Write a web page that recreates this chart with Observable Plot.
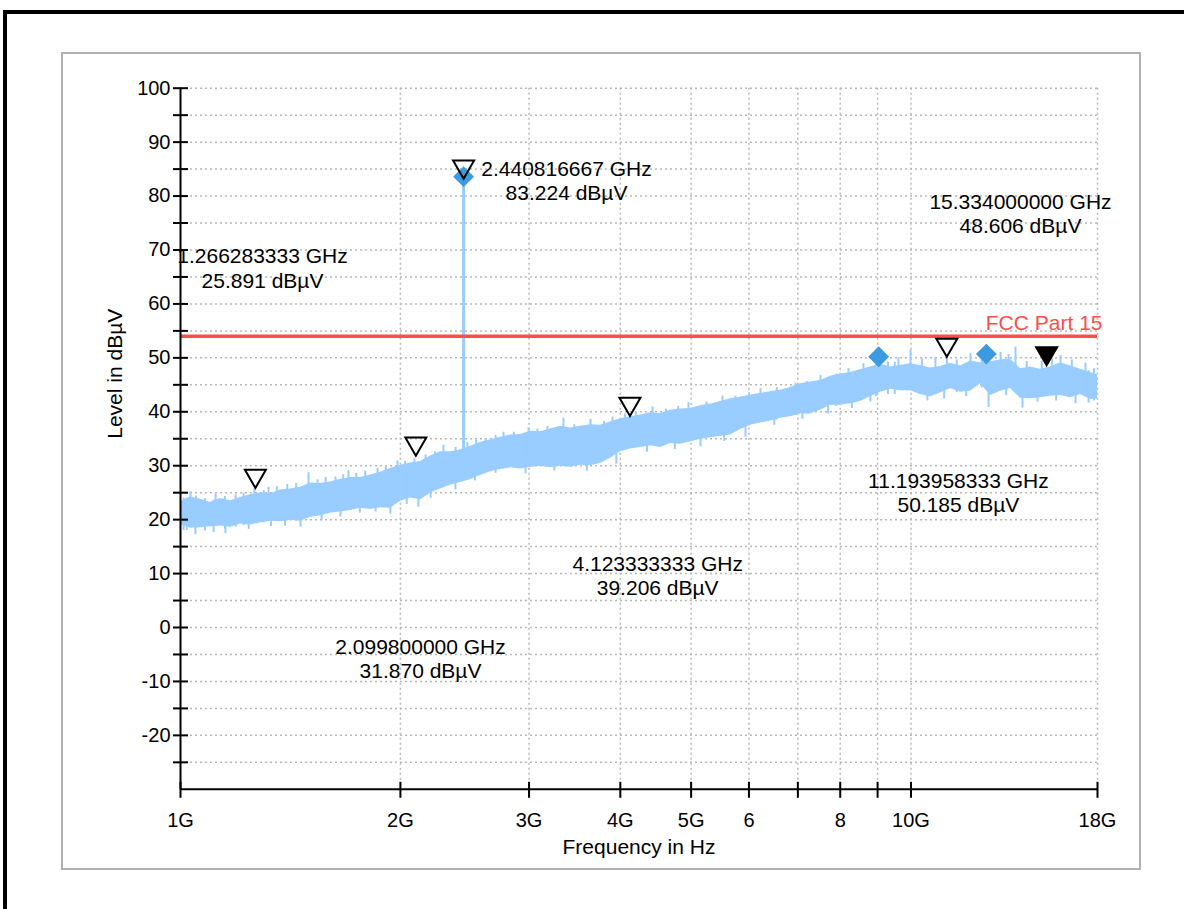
<!DOCTYPE html>
<html>
<head>
<meta charset="utf-8">
<script src="https://cdn.jsdelivr.net/npm/d3@7"></script>
<script src="https://cdn.jsdelivr.net/npm/@observablehq/plot@0.6"></script>
<style>
  html, body { margin: 0; padding: 0; background: #fff; width: 1184px; height: 909px; overflow: hidden; }
  #frameTop { position: absolute; left: 3px; top: 10px; width: 1181px; height: 4px; background: #000; }
  #frameLeft { position: absolute; left: 3px; top: 10px; width: 4px; height: 899px; background: #000; }
  #panel { position: absolute; left: 61px; top: 51.5px; width: 1080px; height: 818.5px; box-sizing: border-box; border: 2px solid #b0b0b0; background: #fff; }
  #chart { position: absolute; left: 0; top: 0; width: 1184px; height: 909px; }
</style>
</head>
<body>
<div id="frameTop"></div>
<div id="frameLeft"></div>
<div id="panel"></div>
<div id="chart"></div>
<script>
// ---- trace (peak detector scan) ----
const traceFreqGHz = [1.000,1.032,1.065,1.099,1.134,1.171,1.208,1.247,1.287,1.328,1.371,1.414,1.460,1.506,1.555,1.604,1.656,1.709,1.764,1.820,1.878,1.938,2.001,2.065,2.131,2.199,2.269,2.342,2.417,2.494,2.574,2.657,2.742,2.830,2.920,3.014,3.110,3.210,3.313,3.419,3.528,3.641,3.758,3.878,4.002,4.130,4.263,4.399,4.540,4.685,4.835,4.990,5.150,5.315,5.485,5.661,5.842,6.029,6.222,6.421,6.627,6.839,7.058,7.284,7.517,7.758,8.006,8.263,8.527,8.800,9.082,9.373,9.673,9.984,10.30,10.63,10.97,11.33,11.69,12.06,12.45,12.85,13.26,13.68,14.12,14.57,15.04,15.52,16.02,16.53,17.06,17.61,18.00];
const traceHigh = [23.3,24.2,23.8,23.2,23.9,23.5,24.1,24.6,25.0,24.8,25.5,25.7,26.0,26.8,26.7,27.0,27.5,27.8,27.8,28.3,28.8,29.5,30.1,30.5,30.8,31.8,32.6,32.6,32.9,33.6,34.3,34.8,35.3,35.7,35.8,36.4,36.3,36.8,37.3,37.0,37.3,37.6,37.5,38.1,38.7,39.1,39.4,39.8,39.7,40.3,40.5,40.6,41.1,41.4,41.9,42.4,42.7,43.1,43.4,43.7,44.0,44.5,45.2,45.5,45.8,46.6,47.0,47.3,47.8,48.3,48.8,48.3,48.6,48.9,48.6,48.1,48.4,49.0,48.5,49.4,49.1,49.3,49.6,49.8,48.0,48.3,47.9,48.3,49.1,48.5,47.9,47.3,46.8];
const traceLow = [19.2,18.4,18.5,18.7,18.8,18.6,19.2,19.0,19.4,19.7,19.6,19.9,19.7,20.4,20.7,21.2,21.4,21.7,22.1,21.9,22.2,22.1,23.4,24.0,23.7,24.9,25.7,26.4,26.9,27.4,28.2,28.9,29.3,29.6,29.4,29.7,29.9,29.6,29.9,29.7,30.1,30.0,30.4,31.4,32.6,33.1,33.4,33.7,33.4,34.1,34.0,34.4,34.9,35.2,35.4,35.7,36.7,37.5,37.9,38.3,38.8,39.1,39.6,39.6,40.3,41.2,41.2,41.5,41.9,42.8,43.6,44.2,43.9,43.9,43.2,42.8,43.5,44.3,43.6,43.8,45.2,43.0,43.8,44.3,42.5,42.4,42.6,42.9,43.0,42.6,43.2,42.3,42.4];

// isolated noise spikes on the trace (upper and lower tips)
const spikeUpFreqGHz = [1.010,1.032,1.050,1.080,1.117,1.150,1.190,1.220,1.262,1.300,1.320,1.355,1.400,1.440,1.497,1.540,1.580,1.630,1.670,1.698,1.740,1.790,1.861,1.910,1.982,2.030,2.090,2.165,2.230,2.291,2.380,2.470,2.540,2.615,2.700,2.768,2.860,2.995,3.080,3.180,3.344,3.460,3.641,3.800,3.902,4.060,4.200,4.427,4.620,4.800,4.959,5.250,5.520,5.750,6.000,6.222,6.550,6.948,7.200,7.517,7.900,8.211,8.608,8.950,9.300,9.612,9.984,10.35,10.80,11.20,11.55,12.06,12.50,13.26,13.60,13.90,14.40,15.10,15.60,16.02,16.60,17.33,17.80];
const spikeUpLevel   = [24.0,25.2,24.4,23.9,24.8,24.3,24.6,24.9,25.7,25.4,26.0,26.1,26.5,26.7,28.7,27.4,27.8,27.9,28.3,29.1,28.6,29.0,29.5,29.8,30.9,30.8,31.3,32.0,32.6,33.8,33.4,34.3,34.8,35.0,35.6,36.2,36.2,37.0,36.8,37.3,38.8,37.6,38.6,38.2,39.0,39.6,40.0,40.9,40.5,41.0,41.7,41.8,42.9,42.9,43.5,44.3,44.5,45.3,45.6,46.7,47.0,48.0,48.9,48.8,49.2,50.0,51.4,49.8,50.0,50.2,49.6,50.8,50.4,51.0,50.6,52.0,49.3,49.4,49.8,50.4,49.6,49.0,48.0];
const spikeDownFreqGHz = [1.020,1.048,1.110,1.152,1.240,1.330,1.390,1.460,1.560,1.656,1.760,1.850,1.938,2.040,2.117,2.200,2.379,2.530,2.700,2.967,3.250,3.600,3.950,4.350,4.750,5.150,5.550,5.935,6.500,7.100,7.700,8.300,8.800,9.500,10.53,11.10,11.90,12.77,13.50,14.21,14.90,15.80,16.80,17.50];
const spikeDownLevel   = [18.0,17.2,17.6,17.4,18.2,18.7,18.8,18.6,19.8,20.5,21.2,21.4,21.0,22.8,22.3,24.0,25.5,27.2,28.6,28.5,29.0,29.0,30.3,32.5,33.0,33.5,34.5,35.3,37.5,38.6,39.6,40.6,41.8,43.2,42.0,42.4,42.8,40.8,43.0,40.7,41.8,42.0,41.5,41.6];

// ---- markers ----
const markerFreqText = ["1.266283333","2.099800000","2.440816667","4.123333333","11.193958333","15.334000000"];
const markerLevel    = [25.891, 31.870, 83.224, 39.206, 50.185, 48.606];
const markerActive   = [false, false, false, false, false, true];
const markerLabelFreqGHz = [1.295, 2.131, 3.376, 4.50, 11.61, 14.12];
const markerLabelLevel   = [66.75, -5.68, 82.97, 9.72, 25.11, 76.86];

// final measurement points (diamonds)
const finalFreqGHz = [2.4408, 9.03, 12.68];
const finalLevel   = [83.6, 50.2, 50.7];

// carrier spike
const carrierFreqGHz = 2.440816667;
const carrierBase = 30;
const carrierLevel = 83.224;

// limit line
const limitName = "FCC Part 15";
const limitLevel = 54;

// axes
const xTickValues = [1, 2, 3, 4, 5, 6, 7, 8, 9, 10, 18];
const xTickLabels = ["1G", "2G", "3G", "4G", "5G", "6", "", "8", "", "10G", "18G"];
const xGridValues = [2, 3, 4, 5, 6, 7, 8, 9, 10, 18];
const yMajorTicks = [-20, -10, 0, 10, 20, 30, 40, 50, 60, 70, 80, 90, 100];
const yMinorTicks = [-25, -15, -5, 5, 15, 25, 35, 45, 55, 65, 75, 85, 95];
const yGridValues = [-25, -20, -15, -10, -5, 0, 5, 10, 15, 20, 25, 30, 35, 40, 45, 50, 55, 60, 65, 70, 75, 80, 85, 90, 95, 100];
const xAxisTitle = "Frequency in Hz";
const yAxisTitle = "Level in dB\u00b5V";

// ---- build tables ----
const trace = traceFreqGHz.map((f, i) => ({f, hi: traceHigh[i], lo: traceLow[i]}));
const spikesUp = spikeUpFreqGHz.map((f, i) => ({f, v: spikeUpLevel[i]}));
const spikesDown = spikeDownFreqGHz.map((f, i) => ({f, v: spikeDownLevel[i]}));
const markers = markerFreqText.map((t, i) => ({
  f: +t, level: markerLevel[i], active: markerActive[i],
  lf: markerLabelFreqGHz[i], ll: markerLabelLevel[i],
  label: `${t} GHz\n${markerLevel[i].toFixed(3)} dB\u00b5V`
}));
const finals = finalFreqGHz.map((f, i) => ({f, level: finalLevel[i]}));
const tickLabelOf = new Map(xTickValues.map((v, i) => [v, xTickLabels[i]]));

const traceColor = "#99ccff";
const limitColor = "#ff4d4d";
const gridStyle = {stroke: "#b8b8b8", strokeOpacity: 1, strokeWidth: 1.5, strokeDasharray: "2,3"};

// downward-pointing triangle with its tip at the data point
const downTriangle = {
  draw(ctx, size) {
    const s = Math.sqrt(size * 4 / Math.sqrt(3));
    const h = s * Math.sqrt(3) / 2;
    ctx.moveTo(0, 0);
    ctx.lineTo(-s / 2, -h);
    ctx.lineTo(s / 2, -h);
    ctx.closePath();
  }
};

const fontStack = "'Liberation Sans', Arial, Helvetica, sans-serif";

const chart = Plot.plot({
  width: 1184,
  height: 909,
  marginLeft: 180,
  marginRight: 87,
  marginTop: 87.7,
  marginBottom: 120.2,
  style: {background: "transparent", fontFamily: fontStack, color: "black", overflow: "visible"},
  x: {type: "log", domain: [1, 18]},
  y: {domain: [-30, 100]},
  marks: [
    Plot.gridY(yGridValues, gridStyle),
    Plot.gridX(xGridValues, gridStyle),
    Plot.areaY(trace, {x: "f", y1: "lo", y2: "hi", fill: traceColor}),
    Plot.ruleX(spikesUp, {x: "f", y1: d => d.v - 6, y2: "v", stroke: traceColor, strokeWidth: 2}),
    Plot.ruleX(spikesDown, {x: "f", y1: "v", y2: d => d.v + 6, stroke: traceColor, strokeWidth: 2}),
    Plot.ruleX([carrierFreqGHz], {y1: carrierBase, y2: carrierLevel, stroke: traceColor, strokeWidth: 3}),
    Plot.ruleY([limitLevel], {stroke: limitColor, strokeWidth: 3.5}),
    Plot.text([limitName], {x: 18, y: limitLevel, text: d => d, textAnchor: "end", dx: 5, dy: -13, fill: limitColor, fontSize: 21}),
    Plot.dot(finals, {x: "f", y: "level", symbol: "diamond2", r: 9.4, fill: "#3d9ae0", stroke: "none"}),
    Plot.dot(markers.filter(d => !d.active), {x: "f", y: "level", symbol: downTriangle, r: 7.8, fill: "none", stroke: "black", strokeWidth: 2, strokeLinejoin: "miter"}),
    Plot.dot(markers.filter(d => d.active), {x: "f", y: "level", symbol: downTriangle, r: 7.8, fill: "black", stroke: "black", strokeWidth: 2}),
    Plot.text(markers, {x: "lf", y: "ll", text: "label", fontSize: 21, lineHeight: 1.18, textAnchor: "middle", fill: "black"}),
    Plot.ruleX([1], {y1: -30, y2: 100, stroke: "black", strokeWidth: 2}),
    Plot.ruleY([-30], {stroke: "black", strokeWidth: 2}),
    Plot.axisY(yMajorTicks, {tickSize: 15, dx: 8, tickPadding: 3, fontSize: 20, strokeWidth: 2, tickFormat: d => String(d), label: null}),
    Plot.axisY(yMinorTicks, {tickSize: 15, dx: 8, tickFormat: () => "", strokeWidth: 2, label: null}),
    Plot.axisX(xTickValues, {tickSize: 16, dy: -7, tickPadding: 14, fontSize: 20, strokeWidth: 2, tickFormat: v => tickLabelOf.get(v), label: null}),
    Plot.text([xAxisTitle], {frameAnchor: "bottom", dy: 65, text: d => d, fontSize: 21}),
    Plot.text([yAxisTitle], {frameAnchor: "left", dx: -65, rotate: -90, text: d => d, fontSize: 21})
  ]
});
document.getElementById("chart").appendChild(chart);
</script>
</body>
</html>
